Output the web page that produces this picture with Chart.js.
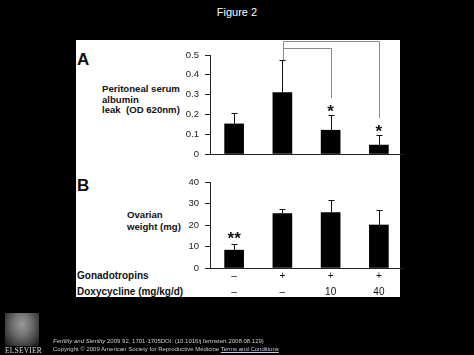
<!DOCTYPE html>
<html><head><meta charset="utf-8">
<script src="https://cdn.jsdelivr.net/npm/chart.js@4.4.0/dist/chart.umd.min.js"></script>
<style>
html,body{margin:0;padding:0;background:#000;width:474px;height:355px;overflow:hidden;font-family:"Liberation Sans",Arial,sans-serif;}
#panel{position:absolute;left:76px;top:40px;width:324px;height:257px;background:#fff;}
canvas{position:absolute;left:0;top:0;}
.t{position:absolute;white-space:nowrap;line-height:1;color:#111;}
.b{font-weight:bold;}
#logo{position:absolute;left:5px;top:313px;width:34px;height:33px;
 background:radial-gradient(ellipse at 50% 35%,#9a9a9a 0,#6e6e6e 40%,#3a3a3a 75%,#111 100%);}
</style></head><body>
<div id="panel"></div>
<div class="t" style="left:0;width:474px;text-align:center;top:7px;color:#fff;font-size:11px;">Figure 2</div>

<div class="t b" style="left:77px;top:51px;font-size:17px;">A</div>
<div class="t b" style="left:77px;top:177px;font-size:17px;">B</div>

<div class="t b" style="left:102px;top:84px;font-size:9.6px;line-height:10.5px;">Peritoneal serum<br>albumin<br>leak&nbsp; (OD 620nm)</div>
<div class="t b" style="left:127px;top:209px;font-size:9.6px;line-height:12px;">Ovarian<br>weight (mg)</div>

<div class="t b" style="left:77px;top:271px;font-size:10px;">Gonadotropins</div>
<div class="t b" style="left:77px;top:287px;font-size:10px;">Doxycycline (mg/kg/d)</div>

<canvas id="ca" width="474" height="355"></canvas>
<canvas id="cb" width="474" height="355"></canvas>

<div id="logo"></div>
<div class="t" style="left:5px;top:347px;font-family:'Liberation Serif',serif;font-size:7.5px;color:#ddd;letter-spacing:0.2px;">ELSEVIER</div>
<div class="t" style="left:53px;top:338px;font-size:6px;color:#ccc;"><i>Fertility and Sterility</i> 2009 92, 1701-1705DOI: (10.1016/j.fertnstert.2008.08.129)</div>
<div class="t" style="left:53px;top:346px;font-size:6px;color:#ccc;">Copyright © 2009 American Society for Reproductive Medicine <u style="color:#c8c8e8">Terms and Conditions</u></div>

<script>
// ---- data ----
const gonadotropins = ['–', '+', '+', '+'];
const doxycycline   = ['–', '–', '10', '40'];
const albuminLeak    = [0.152, 0.31, 0.12, 0.045];
const albuminLeakErr = [0.056, 0.164, 0.076, 0.050];
const ovarianWeight    = [8.3, 25.3, 25.8, 20.0];
const ovarianWeightErr = [2.8, 2.3, 5.6, 6.8];
const albuminTicks = [0, 0.1, 0.2, 0.3, 0.4, 0.5];
const weightTicks  = [0, 10, 20, 30, 40];
const albuminSig = ['', '', '*', '*'];
const weightSig  = ['**', '', '', ''];
const comparisons = [{from: 1, to: 3}, {from: 1, to: 2}];

const FONT = '"Liberation Sans", Arial, sans-serif';
const categories = gonadotropins.map((g, i) => [g, doxycycline[i]]);

function errorPlugin(id, values, errors, sig, sigShift) {
  return {
    id,
    afterDatasetsDraw(chart) {
      const ctx = chart.ctx;
      const meta = chart.getDatasetMeta(0);
      const ys = chart.scales.y;
      ctx.save();
      ctx.strokeStyle = '#111';
      ctx.fillStyle = '#111';
      ctx.lineWidth = 1;
      meta.data.forEach((bar, i) => {
        const x = Math.round(bar.x) + 0.5;
        const yTop = Math.round(ys.getPixelForValue(values[i] + errors[i])) + 0.5;
        ctx.beginPath();
        ctx.moveTo(x, bar.y);
        ctx.lineTo(x, yTop);
        ctx.moveTo(x - 3, yTop);
        ctx.lineTo(x + 3, yTop);
        ctx.stroke();
        if (sig[i]) {
          ctx.font = 'bold 17px ' + FONT;
          ctx.textAlign = 'center';
          ctx.textBaseline = 'alphabetic';
          ctx.fillText(sig[i], bar.x, yTop + sigShift);
        }
      });
      ctx.restore();
    }
  };
}

const bracketPlugin = {
  id: 'brackets',
  afterDraw(chart) {
    const ctx = chart.ctx;
    const xs = chart.scales.x, ys = chart.scales.y;
    const levels = [0.57, 0.535];
    ctx.save();
    ctx.strokeStyle = '#8a8a8a';
    ctx.lineWidth = 1;
    comparisons.forEach((c, k) => {
      const x1 = Math.round(xs.getPixelForValue(c.from)) + 1.5;
      const x2 = Math.round(xs.getPixelForValue(c.to)) + 0.5;
      const y = Math.round(ys.getPixelForValue(levels[k])) + 0.5;
      const yStart = ys.getPixelForValue(albuminLeak[c.from] + albuminLeakErr[c.from]);
      const yEnd = ys.getPixelForValue(albuminLeak[c.to] + albuminLeakErr[c.to]) - 17;
      ctx.beginPath();
      ctx.moveTo(x1, k === 0 ? yStart : y);
      ctx.lineTo(x1, y);
      ctx.lineTo(x2, y);
      ctx.lineTo(x2, yEnd);
      ctx.stroke();
    });
    ctx.restore();
  }
};

function yAxis(max, ticks, fmt) {
  return {
    min: 0, max,
    afterBuildTicks: s => { s.ticks = ticks.map(v => ({value: v})); },
    afterFit: s => { s.width = 30; },
    ticks: {color: '#222', font: {size: 9.5, family: FONT}, padding: 6, callback: fmt},
    grid: {display: true, drawOnChartArea: false, drawTicks: true, tickLength: 5, color: '#222'},
    border: {display: true, color: '#222', width: 1}
  };
}

new Chart(document.getElementById('ca'), {
  type: 'bar',
  data: {labels: categories, datasets: [{data: albuminLeak, backgroundColor: '#000', barThickness: 19}]},
  options: {
    responsive: false, animation: false, devicePixelRatio: 1,
    layout: {padding: {left: 180, right: 71, top: 55, bottom: 196}},
    plugins: {legend: {display: false}, tooltip: {enabled: false}},
    scales: {
      x: {type: 'category', offset: true, afterFit: s => { s.height = 5; },
          ticks: {display: false}, grid: {display: false},
          border: {display: true, color: '#222', width: 1}},
      y: yAxis(0.5, albuminTicks, v => v === 0 ? '0' : v.toFixed(1))
    }
  },
  plugins: [errorPlugin('errA', albuminLeak, albuminLeakErr, albuminSig, 1), bracketPlugin]
});

new Chart(document.getElementById('cb'), {
  type: 'bar',
  data: {labels: categories, datasets: [{data: ovarianWeight, backgroundColor: '#000', barThickness: 19}]},
  options: {
    responsive: false, animation: false, devicePixelRatio: 1,
    layout: {padding: {left: 180, right: 71, top: 182, bottom: 47}},
    plugins: {legend: {display: false}, tooltip: {enabled: false}},
    scales: {
      x: {type: 'category', offset: true, afterFit: s => { s.height = 40; },
          ticks: {display: true, autoSkip: false, maxRotation: 0, padding: 0, color: '#111',
                  font: {size: 10, family: FONT, lineHeight: 1.6}},
          grid: {display: false, drawTicks: false},
          border: {display: true, color: '#222', width: 1}},
      y: yAxis(40, weightTicks, v => String(v))
    }
  },
  plugins: [errorPlugin('errB', ovarianWeight, ovarianWeightErr, weightSig, -1)]
});
</script>
</body></html>
